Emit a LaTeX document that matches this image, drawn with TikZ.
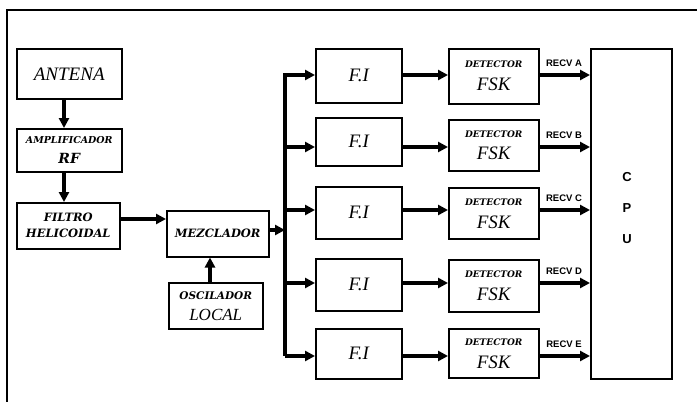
\documentclass[tikz,border=0pt]{standalone}
\usepackage{fontspec}
\setmainfont{Liberation Serif}
\newfontfamily\sansbf{Liberation Sans}
\newfontfamily\lettering{DejaVu Serif}
\usetikzlibrary{arrows.meta}
\begin{document}
\begin{tikzpicture}[x=1pt,y=-1pt,
  box/.style={draw, line width=1.5pt, inner sep=0pt, anchor=north west, align=center},
  arr/.style={line width=3.2pt, -{Triangle[length=10pt,width=10pt]}},
  bus/.style={line width=3.2pt},
  frame/.style={line width=1.6pt},
  bigit/.style={font=\fontsize{19}{20}\selectfont\itshape},
  recv/.style={font=\fontsize{9.5}{10}\selectfont\sansbf\bfseries, inner sep=0pt}]
\useasboundingbox (0,0) rectangle (697,402);
% frame
\coordinate (ftr) at (697,10);
\coordinate (ftl) at (7,10);
\coordinate (fbl) at (7,402);
\draw[frame] (ftr) -- (ftl) -- (fbl);
% left chain
\node[box, minimum width=105pt, minimum height=50pt, bigit] (ant) at (16,48) {ANTENA};
\node[box, minimum width=105pt, minimum height=43pt, font=\fontsize{14}{20}\selectfont\lettering\itshape\bfseries] (amp) at (16,128)
  {{\fontsize{9.5}{10}\selectfont AMPLIFICADOR}\\RF};
\node[box, minimum width=103pt, minimum height=46pt, font=\fontsize{11.5}{16}\selectfont\lettering\itshape\bfseries] (fil) at (16,202)
  {FILTRO\\HELICOIDAL};
\node[box, minimum width=102pt, minimum height=46pt, font=\fontsize{11.5}{12}\selectfont\lettering\itshape\bfseries] (mez) at (166,210) {MEZCLADOR};
\node[box, minimum width=94pt, minimum height=46pt, font=\fontsize{17}{21}\selectfont\itshape] (osc) at (168,282)
  {{\fontsize{10.5}{11}\selectfont\lettering\bfseries OSCILADOR}\\LOCAL};
\draw[arr] (ant.south -| 64,0) -- (amp.north -| 64,0);
\draw[arr] (amp.south -| 64,0) -- (fil.north -| 64,0);
\draw[arr] (fil.east |- 0,219) -- (mez.west |- 0,219);
\draw[arr] (osc.north -| 210,0) -- (mez.south -| 210,0);
% bus
\coordinate (bt) at (285,73);
\coordinate (bb) at (285,356);
\coordinate (bm) at (285,230);
\draw[bus] (bt) -- (bb);
\draw[arr] (mez.east |- bm) -- (bm);
% CPU
\node[box, minimum width=81pt, minimum height=330pt] (cpu) at (590,48) {};
\node[font=\fontsize{13}{31}\selectfont\sansbf\bfseries, align=center] (cputxt) at (627,208) {C\\P\\U};
% rows
\foreach \i/\ft/\fb/\dt/\db/\ay/\L in {1/48/102/48/103/75/A, 2/117/165/119/170/147/B, 3/186/238/187/238/210/C, 4/258/310/259/311/283/D, 5/328/378/328/377/356/E}{
  \pgfmathsetmacro{\fh}{\fb-\ft}
  \pgfmathsetmacro{\dh}{\db-\dt}
  \node[box, minimum width=86pt, minimum height=\fh pt, bigit] (fi\i) at (315,\ft) {F.I};
  \node[box, minimum width=90pt, minimum height=\dh pt, font=\fontsize{19}{23}\selectfont\itshape] (det\i) at (448,\dt)
    {{\fontsize{9}{10}\selectfont\lettering\bfseries DETECTOR}\\FSK};
  \coordinate (j\i) at (285,\ay);
  \draw[arr] (j\i) -- (fi\i.west |- j\i);
  \draw[arr] (fi\i.east |- j\i) -- (det\i.west |- j\i);
  \draw[arr] (det\i.east |- j\i) -- (cpu.west |- j\i);
  \node[recv] (r\i) at (564,\ay-12) {RECV \L};
}
\end{tikzpicture}
\end{document}
